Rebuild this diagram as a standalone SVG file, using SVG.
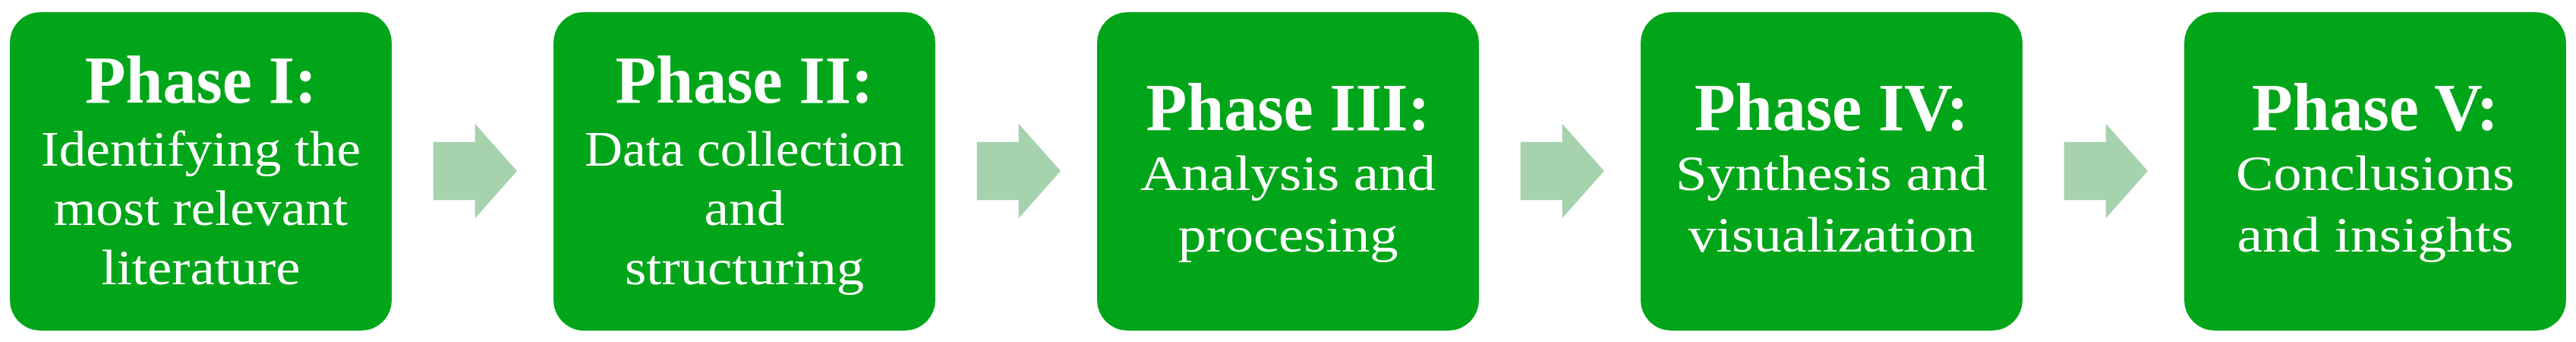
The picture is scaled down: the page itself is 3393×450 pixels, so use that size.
<svg xmlns="http://www.w3.org/2000/svg" xmlns:xlink="http://www.w3.org/1999/xlink" width="3393" height="450" viewBox="0 0 3393 450">
<style>
.box{fill:#00A519;}
.arrow{fill:#A6D2AD;}
.title{font-family:"Liberation Serif","Times New Roman",serif;font-weight:bold;font-size:88px;fill:#FFFFFF;text-anchor:middle;}
.body{font-family:"Liberation Serif","Times New Roman",serif;font-size:65px;fill:#FFFFFF;text-anchor:middle;}
</style>
<defs>
<path id="arr" d="M0,0 H55 V-24 L110.3,38.3 L55,100.6 V76.6 H0 Z"/>
</defs>
<rect width="3393" height="450" fill="#FFFFFF"/>
<g id="connectors">
<use xlink:href="#arr" class="arrow" x="570.7" y="186.7"/>
<use xlink:href="#arr" class="arrow" x="1286.7" y="186.7"/>
<use xlink:href="#arr" class="arrow" x="2002.7" y="186.7"/>
<use xlink:href="#arr" class="arrow" x="2718.7" y="186.7"/>
</g>
<g id="phase1">
<rect class="box" x="13" y="16" width="503" height="419" rx="40" ry="40"/>
<text class="title" x="264.5" y="135">Phase I:</text>
<text class="body" x="264.5" y="218" textLength="421" lengthAdjust="spacingAndGlyphs">Identifying the</text>
<text class="body" x="264.5" y="296" textLength="387" lengthAdjust="spacingAndGlyphs">most relevant</text>
<text class="body" x="264.5" y="374" textLength="262" lengthAdjust="spacingAndGlyphs">literature</text>
</g>
<g id="phase2">
<rect class="box" x="729" y="16" width="503" height="419" rx="40" ry="40"/>
<text class="title" x="980.5" y="135">Phase II:</text>
<text class="body" x="980.5" y="218" textLength="421" lengthAdjust="spacingAndGlyphs">Data collection</text>
<text class="body" x="980.5" y="296" textLength="106" lengthAdjust="spacingAndGlyphs">and</text>
<text class="body" x="980.5" y="374" textLength="315" lengthAdjust="spacingAndGlyphs">structuring</text>
</g>
<g id="phase3">
<rect class="box" x="1445" y="16" width="503" height="419" rx="40" ry="40"/>
<text class="title" x="1696.5" y="171">Phase III:</text>
<text class="body" x="1696.5" y="250" textLength="389" lengthAdjust="spacingAndGlyphs">Analysis and</text>
<text class="body" x="1696.5" y="331" textLength="290" lengthAdjust="spacingAndGlyphs">procesing</text>
</g>
<g id="phase4">
<rect class="box" x="2161" y="16" width="503" height="419" rx="40" ry="40"/>
<text class="title" x="2412.5" y="171">Phase IV:</text>
<text class="body" x="2412.5" y="250" textLength="411" lengthAdjust="spacingAndGlyphs">Synthesis and</text>
<text class="body" x="2412.5" y="331" textLength="378" lengthAdjust="spacingAndGlyphs">visualization</text>
</g>
<g id="phase5">
<rect class="box" x="2877" y="16" width="503" height="419" rx="40" ry="40"/>
<text class="title" x="3128.5" y="171">Phase V:</text>
<text class="body" x="3128.5" y="250" textLength="367" lengthAdjust="spacingAndGlyphs">Conclusions</text>
<text class="body" x="3128.5" y="331" textLength="364" lengthAdjust="spacingAndGlyphs">and insights</text>
</g>
</svg>
